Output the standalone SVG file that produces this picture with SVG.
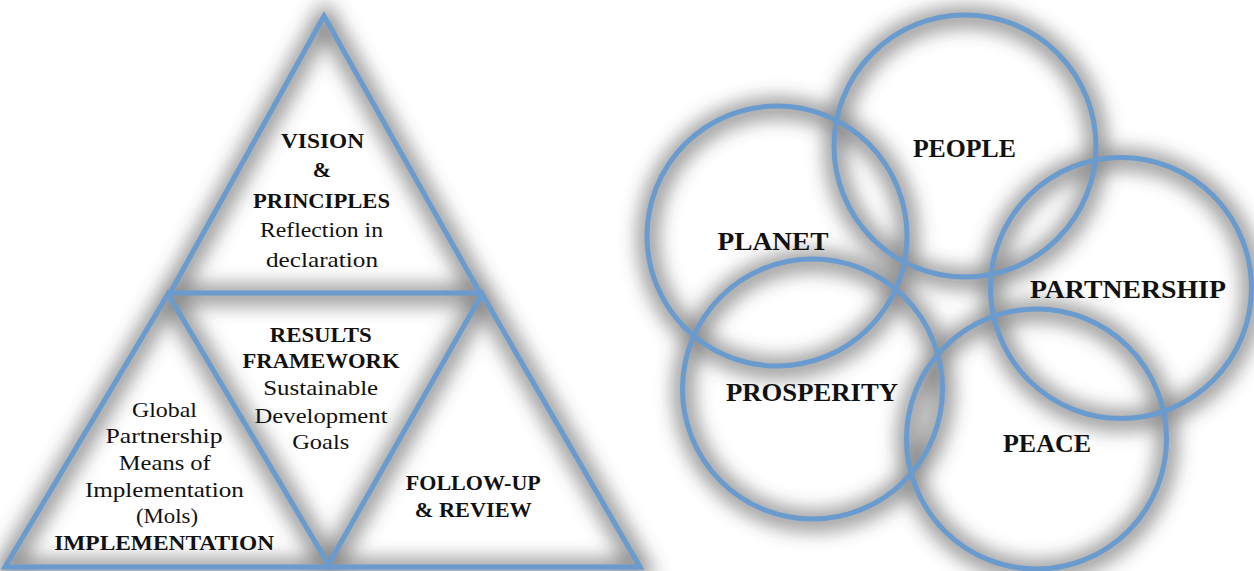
<svg xmlns="http://www.w3.org/2000/svg" width="1254" height="571" viewBox="0 0 1254 571">
<style>
.bg{fill:#ffffff}
.edge{fill:none;stroke:#6a9bcf;stroke-width:5;stroke-linejoin:miter}
.shadow{fill:none;stroke:#3c3c3c;stroke-width:18}
.t{font-family:"Liberation Serif","Times New Roman",serif;font-size:22px;fill:#111;text-anchor:middle}
.b{font-weight:bold}
.c{font-family:"Liberation Serif","Times New Roman",serif;font-size:25px;font-weight:bold;fill:#111;text-anchor:middle}
</style>
<defs>
<filter id="blur" x="-10%" y="-10%" width="120%" height="120%">
<feGaussianBlur stdDeviation="10"/>
</filter>
</defs>
<rect class="bg" x="0" y="0" width="1254" height="571"/>

<g id="shadows" filter="url(#blur)" opacity="0.62" transform="translate(1,2)">
<polygon class="shadow" points="324,16 170,293 480,293"/>
<polygon class="shadow" points="168,294 5,567 330,567"/>
<polygon class="shadow" points="482,294 327,567 640,567"/>
<circle class="shadow" cx="965" cy="146" r="131"/>
<circle class="shadow" cx="777" cy="236" r="130"/>
<circle class="shadow" cx="812.5" cy="389" r="130"/>
<circle class="shadow" cx="1121" cy="288" r="130.5"/>
<circle class="shadow" cx="1036.5" cy="439" r="130"/>
</g>

<g id="vision-principles">
<polygon class="edge" points="324,16 170,293 480,293"/>
<text class="t b" x="322.5" y="148" textLength="83" lengthAdjust="spacingAndGlyphs">VISION</text>
<text class="t b" x="322" y="177">&amp;</text>
<text class="t b" x="321.5" y="208" textLength="137" lengthAdjust="spacingAndGlyphs">PRINCIPLES</text>
<text class="t" x="321.5" y="237" textLength="123" lengthAdjust="spacingAndGlyphs">Reflection in</text>
<text class="t" x="322" y="267" textLength="112" lengthAdjust="spacingAndGlyphs">declaration</text>
</g>

<g id="implementation">
<polygon class="edge" points="168,294 5,567 330,567"/>
<text class="t" x="164.4" y="417" textLength="65" lengthAdjust="spacingAndGlyphs">Global</text>
<text class="t" x="164" y="443" textLength="117" lengthAdjust="spacingAndGlyphs">Partnership</text>
<text class="t" x="164.8" y="470" textLength="92" lengthAdjust="spacingAndGlyphs">Means of</text>
<text class="t" x="164.4" y="497" textLength="159" lengthAdjust="spacingAndGlyphs">Implementation</text>
<text class="t" x="167" y="523" textLength="62" lengthAdjust="spacingAndGlyphs">(Mols)</text>
<text class="t b" x="164.2" y="550" textLength="220" lengthAdjust="spacingAndGlyphs">IMPLEMENTATION</text>
</g>

<g id="follow-up-review">
<polygon class="edge" points="482,294 327,567 640,567"/>
<text class="t b" x="473.3" y="490" textLength="135" lengthAdjust="spacingAndGlyphs">FOLLOW-UP</text>
<text class="t b" x="473.3" y="517" textLength="117" lengthAdjust="spacingAndGlyphs">&amp; REVIEW</text>
</g>

<g id="results-framework">
<text class="t b" x="320.7" y="342" textLength="102" lengthAdjust="spacingAndGlyphs">RESULTS</text>
<text class="t b" x="321" y="368" textLength="157" lengthAdjust="spacingAndGlyphs">FRAMEWORK</text>
<text class="t" x="320.7" y="395" textLength="115" lengthAdjust="spacingAndGlyphs">Sustainable</text>
<text class="t" x="321" y="423" textLength="133" lengthAdjust="spacingAndGlyphs">Development</text>
<text class="t" x="320.7" y="449" textLength="57" lengthAdjust="spacingAndGlyphs">Goals</text>
</g>

<g id="people">
<circle class="edge" cx="965" cy="146" r="131"/>
<text class="c" x="964.4" y="157" textLength="103" lengthAdjust="spacingAndGlyphs">PEOPLE</text>
</g>
<g id="planet">
<circle class="edge" cx="777" cy="236" r="130"/>
<text class="c" x="773" y="250" textLength="111" lengthAdjust="spacingAndGlyphs">PLANET</text>
</g>
<g id="prosperity">
<circle class="edge" cx="812.5" cy="389" r="130"/>
<text class="c" x="812" y="401" textLength="172" lengthAdjust="spacingAndGlyphs">PROSPERITY</text>
</g>
<g id="partnership">
<circle class="edge" cx="1121" cy="288" r="130.5"/>
<text class="c" x="1127.9" y="298" textLength="196" lengthAdjust="spacingAndGlyphs">PARTNERSHIP</text>
</g>
<g id="peace">
<circle class="edge" cx="1036.5" cy="439" r="130"/>
<text class="c" x="1047" y="452" textLength="88" lengthAdjust="spacingAndGlyphs">PEACE</text>
</g>
</svg>
